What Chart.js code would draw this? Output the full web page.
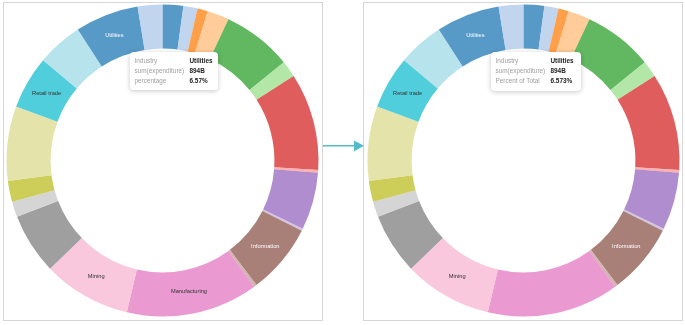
<!DOCTYPE html>
<html>
<head>
<meta charset="utf-8">
<script src="https://cdn.jsdelivr.net/npm/chart.js@4/dist/chart.umd.min.js"></script>
<style>
  body { margin: 0; background: #fff; font-family: "Liberation Sans", Arial, sans-serif; }
  .box { position: absolute; top: 2px; width: 320px; height: 319px; border: 1px solid #d6d6d6; box-sizing: border-box; }
  canvas { position: absolute; top: 3px; }
  .tip { position: absolute; top: 52px; height: 38px; background: #fff; border-radius: 4px;
         box-shadow: 0 1px 5px rgba(0,0,0,0.22); font-size: 6.4px; padding: 4px 0 0 4.5px; box-sizing: border-box; }
  .tip table { border-collapse: collapse; }
  .tip td { padding: 0; height: 9.9px; line-height: 9.9px; white-space: nowrap; }
  .tip td.k { color: #a0a0a0; width: 55px; }
  .tip td.v { color: #222; font-weight: bold; }
</style>
</head>
<body>
<div class="box" style="left:3px"></div>
<div class="box" style="left:363px"></div>
<canvas id="left" width="317" height="315" style="left:4px"></canvas>
<canvas id="right" width="317" height="315" style="left:365px"></canvas>
<svg style="position:absolute;left:320px;top:138px" width="46" height="16">
  <line x1="3" y1="7.7" x2="36" y2="7.7" stroke="#52bccc" stroke-width="1.5"/>
  <polygon points="34,2.5 44,7.7 34,13.5" fill="#52bccc"/>
</svg>
<div class="tip" id="tipLeft" style="left:130px;width:88px"></div>
<div class="tip" id="tipRight" style="left:491px;width:90px;height:39px"></div>

<script>
// expenditure by industry, billions
const industries = [
    'Accommodation and food services',
    'Administrative and waste management services',
    'Agriculture, forestry, fishing, and hunting',
    'Arts, entertainment, and recreation',
    'Construction',
    'Educational services',
    'Finance and insurance',
    'Forestry and logging',
    'Health care and social assistance',
    'Households',
    'Information',
    'Management of companies and enterprises',
    'Manufacturing',
    'Mining',
    'Other services, except government',
    'Pipeline transportation',
    'Professional, scientific, and technical services',
    'Real estate and rental and leasing',
    'Retail trade',
    'Transportation and warehousing',
    'Utilities',
    'Wholesale trade',
];
const expenditure = [291, 200, 144, 310, 982, 234, 1371, 38, 812, 30, 990, 38, 1860, 1243, 858, 219, 295, 1050, 748, 646, 894, 348];

const palette = ['#1f77b4', '#aec7e8', '#ff7f0e', '#ffbb78', '#2ca02c', '#98df8a', '#d62728', '#ff9896', '#9467bd', '#c5b0d5',
    '#8c564b', '#c49c94', '#e377c2', '#f7b6d2', '#7f7f7f', '#c7c7c7', '#bcbd22', '#dbdb8d', '#17becf', '#9edae5'];

const leftLabels = ['Utilities', 'Retail trade', 'Information', 'Manufacturing', 'Mining'];
const rightLabels = ['Utilities', 'Retail trade', 'Information', 'Mining'];

function fade(hex, a) {
    const n = parseInt(hex.slice(1), 16);
    const r = n >> 16, g = (n >> 8) & 255, b = n & 255;
    return 'rgba(' + r + ',' + g + ',' + b + ',' + a + ')';
}
function isDark(hex) {
    const n = parseInt(hex.slice(1), 16);
    const r = n >> 16, g = (n >> 8) & 255, b = n & 255;
    return 0.2126 * r + 0.7152 * g + 0.0722 * b < 128;
}

const sliceColors = industries.map((_, i) => palette[i % palette.length]);

const sliceLabels = {
    id: 'sliceLabels',
    afterDatasetsDraw(chart, args, opts) {
        const ctx = chart.ctx;
        const meta = chart.getDatasetMeta(0);
        ctx.save();
        ctx.font = '5.7px "Liberation Sans", Arial, sans-serif';
        ctx.textAlign = 'center';
        ctx.textBaseline = 'middle';
        meta.data.forEach((arc, i) => {
            if (!opts.show.includes(industries[i])) return;
            const p = arc.getCenterPoint();
            ctx.fillStyle = isDark(sliceColors[i]) ? '#ffffff' : '#333333';
            ctx.fillText(industries[i], p.x, p.y);
        });
        ctx.restore();
    }
};

function makeChart(id, shown) {
    return new Chart(document.getElementById(id), {
        type: 'doughnut',
        data: {
            labels: industries,
            datasets: [{
                data: expenditure,
                backgroundColor: sliceColors.map(c => fade(c, 0.75)),
                borderWidth: 0,
                radius: 156,
                cutout: 113,
            }],
        },
        options: {
            responsive: false,
            animation: false,
            events: [],
            plugins: {
                legend: { display: false },
                tooltip: { enabled: false },
                sliceLabels: { show: shown },
            },
        },
        plugins: [sliceLabels],
    });
}

makeChart('left', leftLabels);
makeChart('right', rightLabels);

// tooltip boxes for Utilities
const total = expenditure.reduce((a, b) => a + b, 0);
const idx = industries.indexOf('Utilities');
const share = expenditure[idx] / total * 100;

function tipHtml(pctName, digits) {
    return '<table>' +
        '<tr><td class="k">Industry</td><td class="v">' + industries[idx] + '</td></tr>' +
        '<tr><td class="k">sum(expenditure)</td><td class="v">' + expenditure[idx] + 'B</td></tr>' +
        '<tr><td class="k">' + pctName + '</td><td class="v">' + share.toFixed(digits) + '%</td></tr>' +
        '</table>';
}
document.getElementById('tipLeft').innerHTML = tipHtml('percentage', 2);
document.getElementById('tipRight').innerHTML = tipHtml('Percent of Total', 3);
</script>
</body>
</html>
